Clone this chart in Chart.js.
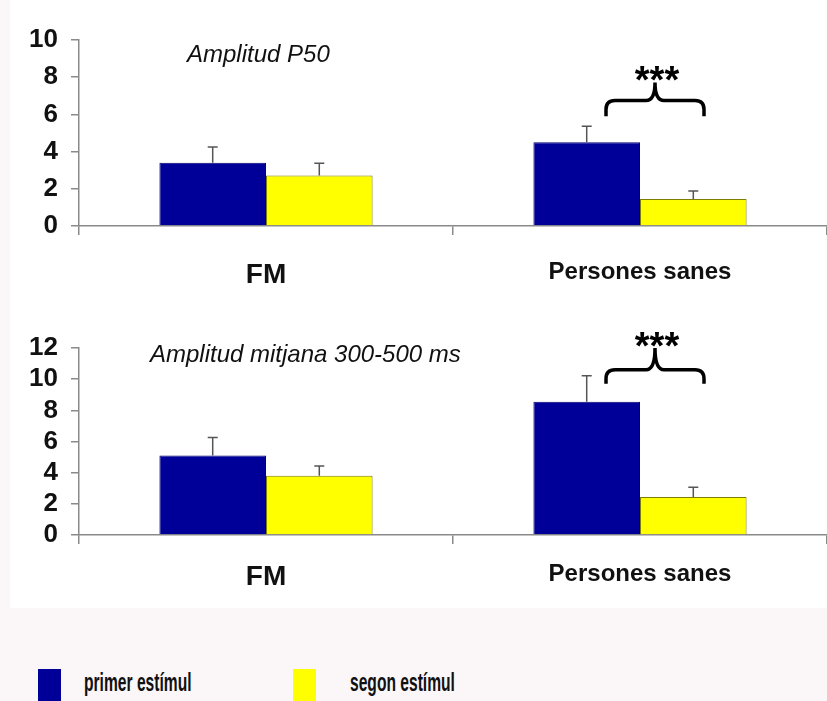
<!DOCTYPE html>
<html>
<head>
<meta charset="utf-8">
<script src="https://cdn.jsdelivr.net/npm/chart.js@4.4.1/dist/chart.umd.min.js"></script>
<style>
  body {
    margin: 0;
    width: 827px;
    height: 701px;
    position: relative;
    overflow: hidden;
    background: #fbf7f9;
    font-family: Arial, "Liberation Sans", sans-serif;
  }
  .panel { position: absolute; left: 10px; top: 0; width: 817px; height: 608px; background: #fff; }
  .box { position: absolute; left: 0; width: 827px; }
  #box-top { top: 0; height: 300px; }
  #box-bottom { top: 300px; height: 310px; }
  .legend-swatch { position: absolute; top: 669px; width: 23px; height: 40px; }
  .legend-text {
    position: absolute;
    top: 667px;
    font: bold 26px Arial, "Liberation Sans", sans-serif;
    line-height: 30px;
    color: #111;
    white-space: nowrap;
    transform: scaleX(0.6);
    transform-origin: left top;
  }
</style>
</head>
<body>
<div class="panel"></div>
<div class="box" id="box-top"><canvas id="chart-p50"></canvas></div>
<div class="box" id="box-bottom"><canvas id="chart-mitjana"></canvas></div>
<div id="legend"></div>

<script>
const categories = ["FM", "Persones sanes"];
const seriesNames = ["primer estímul", "segon estímul"];
const seriesColors = ["#000099", "#ffff00"];
const seriesBorders = ["#000070", "#7d7d00"];

// Amplitud P50
const p50Primer = [3.4, 4.5];
const p50Segon = [2.72, 1.45];
const p50PrimerErr = [0.85, 0.86];
const p50SegonErr = [0.65, 0.43];
const p50Ticks = [0, 2, 4, 6, 8, 10];

// Amplitud mitjana 300-500 ms
const mitPrimer = [5.1, 8.55];
const mitSegon = [3.8, 2.44];
const mitPrimerErr = [1.15, 1.67];
const mitSegonErr = [0.63, 0.62];
const mitTicks = [0, 2, 4, 6, 8, 10, 12];

const AXIS = "#8a8a8a";

const errorBars = {
  id: "errBars",
  afterDatasetsDraw(chart, args, opts) {
    const { ctx } = chart;
    const y = chart.scales.y;
    ctx.save();
    ctx.strokeStyle = "#555";
    ctx.lineWidth = 1.5;
    chart.data.datasets.forEach((ds, i) => {
      chart.getDatasetMeta(i).data.forEach((bar, j) => {
        const top = y.getPixelForValue(ds.data[j] + opts.errors[i][j]);
        ctx.beginPath();
        ctx.moveTo(bar.x, bar.y);
        ctx.lineTo(bar.x, top);
        ctx.moveTo(bar.x - 5, top);
        ctx.lineTo(bar.x + 5, top);
        ctx.stroke();
      });
    });
    ctx.restore();
  },
};

// italic title inside the plot + significance brace with stars
const annotations = {
  id: "notes",
  afterDraw(chart, args, opts) {
    const { ctx, chartArea } = chart;
    const x = chart.scales.x;
    const y = chart.scales.y;
    ctx.save();
    ctx.fillStyle = "#111";
    ctx.font = 'italic 24px Arial, "Liberation Sans", sans-serif';
    ctx.textBaseline = "alphabetic";
    ctx.fillText(opts.title, chartArea.left + opts.titleX, opts.titleY);

    const mid = x.getPixelForValue(opts.category) + 15;
    const left = mid - 49;
    const right = mid + 49;
    const yEnd = y.getPixelForValue(opts.braceEnd);
    const yBar = y.getPixelForValue(opts.braceBar);
    const yTip = y.getPixelForValue(opts.braceTip);
    const r = 9;
    ctx.strokeStyle = "#000";
    ctx.lineWidth = 3.5;
    ctx.beginPath();
    ctx.moveTo(left, yEnd);
    ctx.lineTo(left, yBar + r);
    ctx.quadraticCurveTo(left, yBar, left + r, yBar);
    ctx.lineTo(mid - r, yBar);
    ctx.quadraticCurveTo(mid, yBar, mid, yTip);
    ctx.quadraticCurveTo(mid, yBar, mid + r, yBar);
    ctx.lineTo(right - r, yBar);
    ctx.quadraticCurveTo(right, yBar, right, yBar + r);
    ctx.lineTo(right, yEnd);
    ctx.stroke();

    ctx.fillStyle = "#000";
    ctx.font = 'bold 38px Arial, "Liberation Sans", sans-serif';
    ctx.textAlign = "center";
    ctx.fillText("***", mid + 2, yTip + 11);
    ctx.restore();
  },
};

function makeChart(id, height, areaTop, areaBottom, primer, segon, errs, ticks, notes, labelPad) {
  const canvas = document.getElementById(id);
  canvas.width = 827;
  canvas.height = height;
  return new Chart(canvas, {
    type: "bar",
    data: {
      labels: categories,
      datasets: [
        { label: seriesNames[0], data: primer, backgroundColor: seriesColors[0], borderColor: seriesBorders[0], borderWidth: 1 },
        { label: seriesNames[1], data: segon, backgroundColor: seriesColors[1], borderColor: seriesBorders[1], borderWidth: 1 },
      ],
    },
    options: {
      responsive: false,
      animation: false,
      layout: { padding: { top: areaTop, left: 0, right: 0, bottom: 0 } },
      datasets: { bar: { categoryPercentage: 0.57, barPercentage: 1.0 } },
      plugins: {
        legend: { display: false },
        tooltip: { enabled: false },
        errBars: { errors: errs },
        notes: notes,
      },
      scales: {
        x: {
          offset: true,
          grid: { offset: true, drawOnChartArea: false, drawTicks: true, tickLength: 9, color: AXIS, lineWidth: 1.5 },
          border: { color: AXIS, width: 1.5 },
          ticks: {
            color: "#111",
            padding: labelPad,
            maxRotation: 0,
            font: (c) => ({ family: 'Arial, "Liberation Sans", sans-serif', size: c.index === 0 ? 28 : 24, weight: "bold" }),
          },
          afterFit: (scale) => { scale.height = height - areaBottom; },
        },
        y: {
          min: ticks[0],
          max: ticks[ticks.length - 1],
          afterBuildTicks: (scale) => { scale.ticks = ticks.map((v) => ({ value: v })); },
          grid: { drawOnChartArea: false, drawTicks: true, tickLength: 8, color: AXIS, lineWidth: 1.5 },
          border: { color: AXIS, width: 1.5 },
          ticks: {
            color: "#111",
            padding: 13,
            autoSkip: false,
            font: { family: 'Arial, "Liberation Sans", sans-serif', size: 26, weight: "bold" },
          },
          afterFit: (scale) => { scale.width = 79; },
        },
      },
    },
    plugins: [errorBars, annotations],
  });
}

makeChart("chart-p50", 300, 40, 226, p50Primer, p50Segon, [p50PrimerErr, p50SegonErr], p50Ticks,
  { title: "Amplitud P50", titleX: 108, titleY: 62, category: 1, braceEnd: 5.9, braceBar: 6.75, braceTip: 7.72 }, 23);

makeChart("chart-mitjana", 310, 48, 235, mitPrimer, mitSegon, [mitPrimerErr, mitSegonErr], mitTicks,
  { title: "Amplitud mitjana 300-500 ms", titleX: 71, titleY: 62, category: 1, braceEnd: 9.7, braceBar: 10.6, braceTip: 12.0 }, 16);

// legend below the charts
const legend = document.getElementById("legend");
const legendX = [[38, 84], [293, 350]];
seriesNames.forEach((name, i) => {
  const sw = document.createElement("div");
  sw.className = "legend-swatch";
  sw.style.left = legendX[i][0] + "px";
  sw.style.background = seriesColors[i];
  legend.appendChild(sw);
  const tx = document.createElement("div");
  tx.className = "legend-text";
  tx.style.left = legendX[i][1] + "px";
  tx.textContent = name;
  legend.appendChild(tx);
});
</script>
</body>
</html>
